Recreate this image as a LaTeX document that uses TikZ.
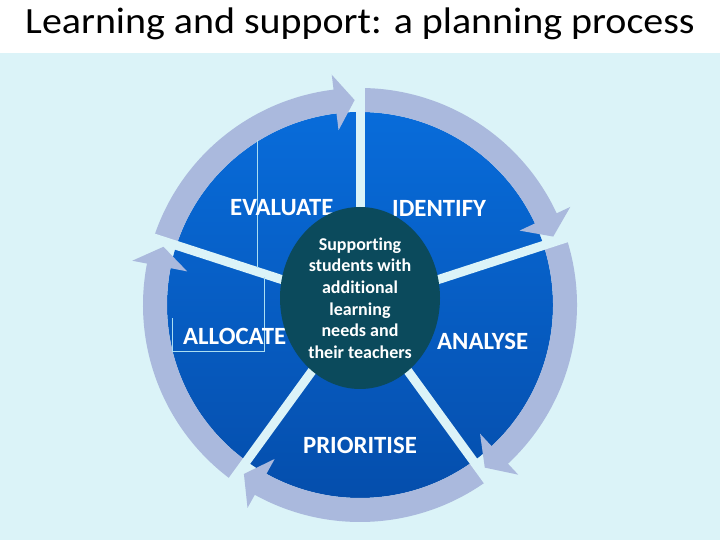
\documentclass[tikz,border=0pt]{standalone}
\usepackage{fontspec}
\setmainfont{Carlito}[Ligatures={NoCommon}]
\usetikzlibrary{calc}
\definecolor{bgc}{RGB}{219,243,248}
\definecolor{ringc}{RGB}{170,185,221}
\definecolor{bluetop}{RGB}{8,108,218}
\definecolor{bluebot}{RGB}{5,78,172}
\definecolor{hubc}{RGB}{11,74,92}
\definecolor{boxline}{RGB}{170,222,242}
\tikzset{
  ringarrow/.style={fill=ringc},
  sepline/.style={draw=bgc, line width=9pt},
  steplabel/.style={text=white, font=\fontsize{24.8}{28}\selectfont\bfseries, inner sep=0pt, anchor=west},
  boxedge/.style={draw=boxline, line width=0.8pt},
}
\begin{document}
\begin{tikzpicture}[x=1pt,y=1pt]
\useasboundingbox (0,0) rectangle (720,540);
\fill[white] (0,0) rectangle (720,540);
\fill[bgc] (0,0) rectangle (720,487);
\node[font=\fontsize{37}{44}\selectfont, inner sep=0pt, anchor=base] (title) at (360,506) {\scalebox{1.08}[1]{Learning and support: a planning process}};
\coordinate (C) at (360,235);
\shade[top color=bluetop, bottom color=bluebot] (C) circle[radius=193];
\begin{scope}[shift={(C)}]
\foreach \s in {162,90,18,-54,-126} {
  \pgfmathsetmacro{\e}{\s-65}
  \pgfmathsetmacro{\t}{\s-70.5}
  \fill[ringarrow] (\s:217) arc[start angle=\s, end angle=\e, radius=217] -- (\e:232) -- (\t:205) -- (\e:176) -- (\e:193) arc[start angle=\e, end angle=\s, radius=193] -- cycle;
}
\foreach \s in {162,90,18,-54,-126} \draw[sepline] (0,0) -- (\s:226);
\end{scope}
\draw[boxedge] (257,400) -- (257,272);
\draw[boxedge] (264,263) -- (264,189) -- (172,189) -- (172,222);
\node[steplabel] (evaluate) at (230,332) {EVALUATE};
\node[steplabel] (identify) at (392,332) {IDENTIFY};
\node[steplabel] (allocate) at (183,204) {ALLOCATE};
\node[steplabel] (analyse) at (437,199) {ANALYSE};
\node[steplabel, anchor=center] (prioritise) at (360,95) {PRIORITISE};
\fill[hubc] (360,242) ellipse[x radius=80, y radius=91];
\node[text=white, font=\fontsize{18}{21.6}\selectfont\bfseries, align=center, inner sep=0pt] (hubtext) at (360,242) {Supporting\\students with\\additional\\learning\\needs and\\their teachers};
\end{tikzpicture}
\end{document}
